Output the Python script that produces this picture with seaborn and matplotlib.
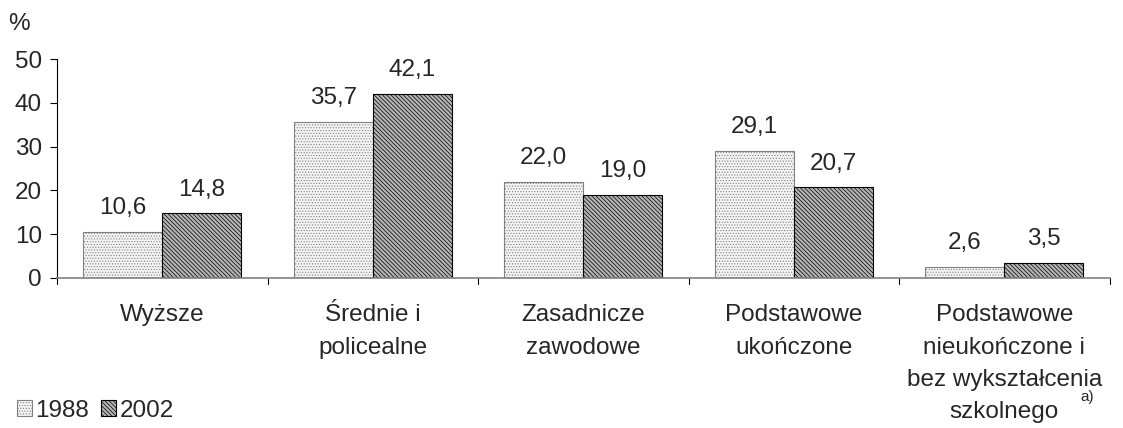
import pandas as pd
import matplotlib.pyplot as plt
import seaborn as sns
from matplotlib.patches import Patch

# === Data ===
categories = ["Wyższe", "Średnie i\npolicealne", "Zasadnicze\nzawodowe",
              "Podstawowe\nukończone",
              "Podstawowe\nnieukończone i\nbez wykształcenia\nszkolnego"]
years = ["1988", "2002"]
values_1988 = [10.6, 35.7, 22.0, 29.1, 2.6]
values_2002 = [14.8, 42.1, 19.0, 20.7, 3.5]

df = pd.DataFrame({
    "Kategoria": categories * 2,
    "Rok": [years[0]] * 5 + [years[1]] * 5,
    "Wartosc": values_1988 + values_2002,
})

sns.set_style("white")
plt.rcParams["font.family"] = ["Liberation Sans", "DejaVu Sans"]
plt.rcParams["hatch.linewidth"] = 0.5

FS = 17.5

fig = plt.figure(figsize=(11.23, 4.28), dpi=100)
ax = fig.add_axes([0.0508, 0.3505, 0.9372, 0.5115])

palette = {"1988": "#f2f2f2", "2002": "#9a9a9a"}
sns.barplot(data=df, x="Kategoria", y="Wartosc", hue="Rok", palette=palette,
            width=0.75, saturation=1, legend=False, ax=ax)

styles = {"1988": ("#f4f4f4", "......", "#808080"),
          "2002": ("#b4b4b4", "\\\\\\\\\\\\\\\\", "#000000")}
for cont, yr in zip(ax.containers, years):
    face, hatch, edge = styles[yr]
    for bar in cont:
        bar.set_facecolor(face)
        bar.set_hatch(hatch)
        bar.set_edgecolor(edge)
        bar.set_linewidth(0.8)
    ax.bar_label(cont, labels=[f"{v:.1f}".replace(".", ",") for v in cont.datavalues],
                 padding=9, fontsize=FS)

ax.set_ylim(0, 50)
ax.set_xlim(-0.5, 4.5)
ax.set_yticks(range(0, 51, 10))
ax.set_xlabel("")
ax.set_ylabel("")
ax.tick_params(axis="y", labelsize=FS, length=5, width=0.8, color="#000000",
               direction="out", left=True, pad=6)
ax.set_xticks(range(5))
ax.set_xticklabels(categories, fontsize=FS, linespacing=1.6)
ax.tick_params(axis="x", length=0, pad=19)
for b in [-0.5, 0.5, 1.5, 2.5, 3.5, 4.5]:
    ax.plot([b, b], [0, -0.028], transform=ax.get_xaxis_transform(), color="#000000",
            lw=0.8, clip_on=False)

sns.despine(ax=ax)
ax.spines["left"].set_color("#000000")
ax.spines["left"].set_linewidth(0.8)
ax.spines["bottom"].set_color("#808080")
ax.spines["bottom"].set_linewidth(1.2)

fig.text(0.007, 0.93, "%", fontsize=FS)
fig.text(0.962, 0.062, "a)", fontsize=11)

handles = [Patch(facecolor=styles[y][0], hatch=styles[y][1], edgecolor=styles[y][2], lw=0.8)
           for y in years]
fig.legend(handles, years, loc="lower left", bbox_to_anchor=(0.0, -0.025), ncol=2,
           frameon=False, fontsize=FS, handlelength=0.6, handleheight=0.6,
           handletextpad=0.15, columnspacing=0.5, borderaxespad=0.3)

fig.savefig("out.png", dpi=100)
